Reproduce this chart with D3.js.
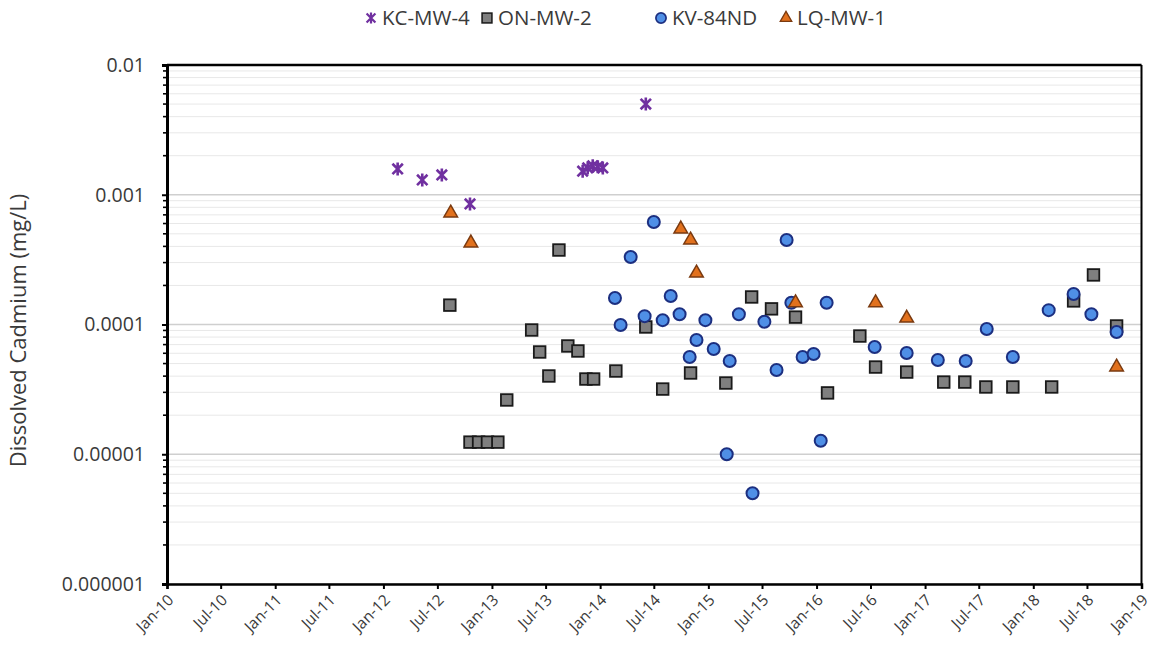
<!DOCTYPE html>
<html><head><meta charset="utf-8">
<script src="https://cdn.jsdelivr.net/npm/d3@7"></script>
<style>
body{margin:0;background:#fff;}
svg text{font-family:"Open Sans","Noto Sans",sans-serif;fill:#3a3a3a;}
</style></head>
<body><svg id="c" width="1152" height="668"></svg>
<script>
// ---- data ----
const seriesNames = ["KC-MW-4","ON-MW-2","KV-84ND","LQ-MW-1"];
const kcDates = ["2012-02-18","2012-05-11","2012-07-16","2012-10-19","2013-11-03","2013-11-20","2013-12-07","2013-12-24","2014-01-10","2014-06-04"];
const kcValues = [0.00158,0.0013,0.00142,0.00085,0.00152,0.00161,0.00167,0.00164,0.00161,0.005];
const onDates = ["2012-08-12","2012-10-19","2012-11-17","2012-12-17","2013-01-21","2013-02-20","2013-05-15","2013-06-11","2013-07-12","2013-08-15","2013-09-14","2013-10-18","2013-11-14","2013-12-10","2014-02-23","2014-06-04","2014-07-31","2014-11-02","2015-03-01","2015-05-27","2015-08-02","2015-10-22","2016-02-07","2016-05-26","2016-07-18","2016-10-31","2017-03-05","2017-05-15","2017-07-25","2017-10-24","2018-03-04","2018-05-17","2018-07-23","2018-10-09"];
const onValues = [0.000141,0.0000124,0.0000124,0.0000124,0.0000124,0.0000262,0.0000907,0.0000614,0.0000401,0.000375,0.0000683,0.0000625,0.000038,0.000038,0.0000438,0.0000957,0.0000318,0.0000423,0.0000354,0.000163,0.000132,0.000114,0.0000297,0.0000815,0.000047,0.000043,0.000036,0.000036,0.000033,0.000033,0.000033,0.000152,0.000241,0.0000974];
const kvDates = ["2014-02-20","2014-03-11","2014-04-14","2014-05-31","2014-07-01","2014-07-31","2014-08-27","2014-09-26","2014-10-30","2014-11-22","2014-12-22","2015-01-19","2015-03-14","2015-03-04","2015-04-14","2015-05-30","2015-07-09","2015-08-19","2015-09-22","2015-10-08","2015-11-15","2015-12-22","2016-01-15","2016-02-04","2016-07-15","2016-10-31","2017-02-13","2017-05-18","2017-07-28","2017-10-24","2018-02-22","2018-05-17","2018-07-16","2018-10-09"];
const kvValues = [0.00016,0.000099,0.000331,0.000116,0.000617,0.000108,0.000166,0.00012,0.0000562,0.000076,0.000108,0.0000648,0.0000523,0.00001,0.00012,0.000005,0.000105,0.0000446,0.000448,0.000147,0.0000562,0.0000593,0.0000127,0.000147,0.0000671,0.0000603,0.0000533,0.0000523,0.0000923,0.0000562,0.000129,0.000172,0.00012,0.0000875];
const lqDates = ["2012-08-15","2012-10-22","2014-09-30","2014-11-02","2014-11-22","2015-10-22","2016-07-18","2016-10-31","2018-10-09"];
const lqValues = [0.000723,0.000425,0.000545,0.000448,0.000249,0.000147,0.000147,0.000112,0.000047];
const yTickValues = [0.000001,0.00001,0.0001,0.001,0.01];
const yTickLabels = ["0.000001","0.00001","0.0001","0.001","0.01"];
const yTitle = "Dissolved Cadmium (mg/L)";
const xDomain = ["2010-01-01","2019-01-01"];

// ---- layout ----
const svg = d3.select("#c");
const L = 167, R = 1141.5, T = 65, B = 584;
const parse = d3.utcParse("%Y-%m-%d");
const x = d3.scaleUtc().domain(xDomain.map(parse)).range([L, R]);
const y = d3.scaleLog().domain([1e-6, 1e-2]).range([B, T]);

// gridlines
const minor = [];
for (let e = -6; e < -2; e++) for (let m = 2; m <= 9; m++) minor.push(m * Math.pow(10, e));
svg.append("g").selectAll("line").data(minor).join("line")
  .attr("x1", L).attr("x2", R).attr("y1", d => y(d)).attr("y2", d => y(d))
  .attr("stroke", "#e8e8e8").attr("stroke-width", 1);
svg.append("g").selectAll("line").data(yTickValues).join("line")
  .attr("x1", L).attr("x2", R).attr("y1", d => y(d)).attr("y2", d => y(d))
  .attr("stroke", "#cfcfcf").attr("stroke-width", 1.3);

// y axis
const yAxis = d3.axisLeft(y).tickValues(yTickValues).tickFormat((d, i) => yTickLabels[i]).tickSize(5).tickPadding(17);
const yg = svg.append("g").attr("transform", `translate(${L},0)`).call(yAxis);
yg.select(".domain").attr("stroke", "#000").attr("stroke-width", 3);
yg.selectAll(".tick line").attr("stroke", "#000").attr("stroke-width", 2);
yg.selectAll("text").style("font-size", "19.5px").attr("fill", "#3a3a3a");
svg.append("g").selectAll("line").data(minor).join("line")
  .attr("x1", L - 4).attr("x2", L).attr("y1", d => y(d)).attr("y2", d => y(d))
  .attr("stroke", "#000").attr("stroke-width", 1.6);

// x axis
const xAxis = d3.axisBottom(x).ticks(d3.utcMonth.every(6)).tickFormat(d3.utcFormat("%b-%y")).tickSize(5);
const xg = svg.append("g").attr("transform", `translate(0,${B})`).call(xAxis);
xg.select(".domain").attr("stroke", "#000").attr("stroke-width", 2.5);
xg.selectAll(".tick line").attr("stroke", "#000").attr("stroke-width", 2);
xg.selectAll("text").style("font-size", "15.5px").attr("fill", "#3a3a3a")
  .attr("text-anchor", "end").attr("dy", 0).attr("y", 0)
  .attr("transform", "translate(7,17) rotate(-45)");

// frame top / right
svg.append("line").attr("x1", L).attr("x2", R).attr("y1", T).attr("y2", T).attr("stroke", "#000").attr("stroke-width", 2.5);
svg.append("line").attr("x1", R).attr("x2", R).attr("y1", T).attr("y2", B).attr("stroke", "#000").attr("stroke-width", 2);

// y title
svg.append("text").attr("transform", `translate(26,${(T + B) / 2 + 6}) rotate(-90)`)
  .attr("text-anchor", "middle").style("font-size", "22px").text(yTitle);

// markers
const starPath = s => `M${-s},${-s}L${s},${s}M${-s},${s}L${s},${-s}M0,${-s * 1.25}L0,${s * 1.25}`;
const styles = {
  star: {draw: g => g.append("path").attr("d", starPath(5.2)).attr("fill", "none").attr("stroke", "#7030a0").attr("stroke-width", 2.6)},
  square: {draw: g => g.append("rect").attr("x", -5.8).attr("y", -5.8).attr("width", 11.6).attr("height", 11.6).attr("fill", "#7f7f7f").attr("stroke", "#1a1a1a").attr("stroke-width", 1.8)},
  circle: {draw: g => g.append("circle").attr("r", 6).attr("fill", "#4f8fe6").attr("stroke", "#1c2f80").attr("stroke-width", 2)},
  tri: {draw: g => g.append("path").attr("d", d3.symbol(d3.symbolTriangle, 80)()).attr("fill", "#e2711d").attr("stroke", "#7a3a10").attr("stroke-width", 1.5)}
};
function plot(dates, vals, kind) {
  const data = dates.map((d, i) => ({d: parse(d), v: vals[i]}));
  const g = svg.append("g").selectAll("g").data(data).join("g")
    .attr("transform", p => `translate(${x(p.d)},${y(p.v)})`);
  g.each(function () { styles[kind].draw(d3.select(this)); });
}
plot(onDates, onValues, "square");
plot(kvDates, kvValues, "circle");
plot(lqDates, lqValues, "tri");
plot(kcDates, kcValues, "star");

// legend
const legKinds = ["star", "square", "circle", "tri"];
const legX = [371, 487, 661, 786];
seriesNames.forEach((n, i) => {
  const g = svg.append("g").attr("transform", `translate(${legX[i]},18)`);
  const m = g.append("g").attr("transform", "scale(0.85)");
  styles[legKinds[i]].draw(m);
  g.append("text").attr("x", 11).attr("y", 7).style("font-size", "20.5px").text(n);
});
</script></body></html>
